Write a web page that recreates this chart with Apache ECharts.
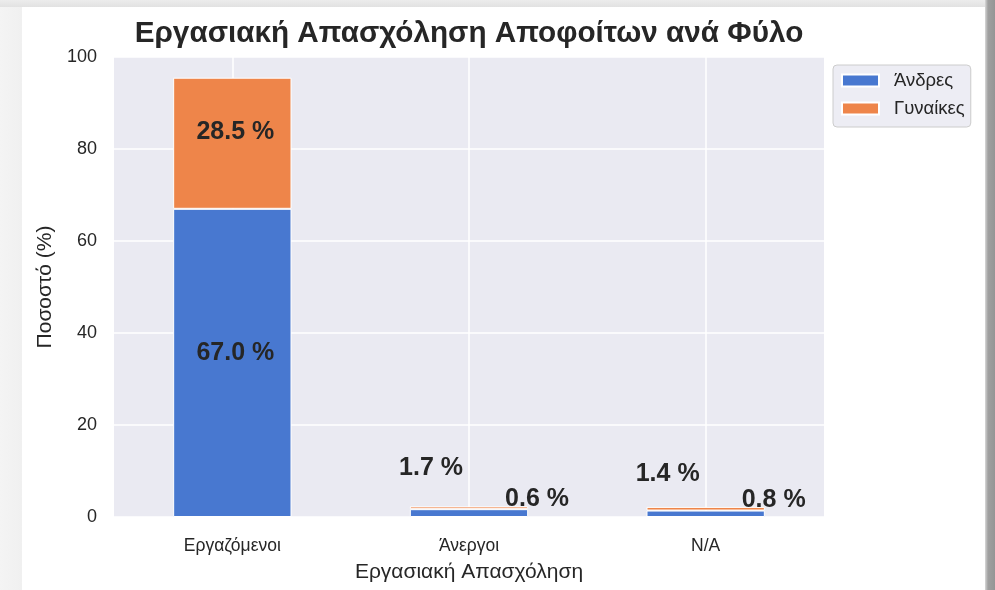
<!DOCTYPE html>
<html>
<head>
<meta charset="utf-8">
<script src="https://cdn.jsdelivr.net/npm/echarts@6/dist/echarts.min.js"></script>
<style>
  html, body { margin: 0; padding: 0; width: 995px; height: 590px; overflow: hidden; background: #f1f1f1; }
  #topband { position: absolute; left: 0; top: 0; width: 995px; height: 7px; background: linear-gradient(to bottom, #ececec, #e2e2e2); }
  #leftband { position: absolute; left: 0; top: 7px; width: 22px; height: 583px; background: linear-gradient(to right, #f4f4f4, #f0f0f0); }
  #card { position: absolute; left: 22px; top: 7px; width: 963px; height: 583px; background: #ffffff; }
  #rightband { position: absolute; left: 985px; top: 0; width: 10px; height: 590px; background: linear-gradient(to right, #d8d8d8, #a0a0a0 30%, #959595); }
  #chart { position: absolute; left: 0; top: 0; width: 995px; height: 590px; }
</style>
</head>
<body>
<div id="topband"></div>
<div id="leftband"></div>
<div id="card"></div>
<div id="rightband"></div>
<div id="chart"></div>
<script>
// ---- data ----
const categories = ['Εργαζόμενοι', 'Άνεργοι', 'N/A'];
const seriesNames = ['Άνδρες', 'Γυναίκες'];
const menValues = [67.0, 1.7, 1.4];
const womenValues = [28.5, 0.6, 0.8];
const yTicks = [0, 20, 40, 60, 80, 100];
const titleText = 'Εργασιακή Απασχόληση Αποφοίτων ανά Φύλο';
const xAxisTitle = 'Εργασιακή Απασχόληση';
const yAxisTitle = 'Ποσοστό (%)';

// ---- styles ----
const FONT = '"Liberation Sans", Arial, sans-serif';
const colors = ['#4878d0', '#ee854a'];
// label offsets (pixels) per category, relative to segment centre
const menLabelOffsets = [[3, -10], [-38, -45], [-38, -40]];
const womenLabelOffsets = [[3, -11], [68, -9], [68, -9]];

function buildData(values, offsets) {
  return values.map((v, i) => ({
    value: v,
    label: { offset: offsets[i] }
  }));
}

const labelStyle = {
  show: true,
  position: 'inside',
  formatter: p => p.value.toFixed(1) + ' %',
  color: '#262626',
  fontFamily: FONT,
  fontWeight: 'bold',
  fontSize: 25
};

const chart = echarts.init(document.getElementById('chart'), null, { renderer: 'canvas' });
chart.setOption({
  animation: false,
  backgroundColor: 'transparent',
  textStyle: { fontFamily: FONT },
  graphic: [{
    type: 'text',
    x: 469, y: 34,
    style: {
      text: titleText,
      x: 0, y: 0,
      font: 'bold 29.7px ' + FONT,
      fill: '#262626',
      textAlign: 'center',
      textVerticalAlign: 'middle'
    }
  }],
  legend: {
    orient: 'vertical',
    left: 833,
    top: 65,
    data: seriesNames,
    icon: 'rect',
    itemWidth: 37,
    itemHeight: 12,
    itemGap: 9,
    padding: [6, 6, 9, 8],
    backgroundColor: 'rgba(234,234,242,0.85)',
    borderColor: '#cccccc',
    borderWidth: 1,
    borderRadius: 4,
    textStyle: { fontSize: 18.5, color: '#262626', fontFamily: FONT, padding: [0, 0, 0, 10] }
  },
  grid: {
    left: 114, right: 171, top: 57, bottom: 73,
    show: true, backgroundColor: '#eaeaf2', borderWidth: 0
  },
  xAxis: {
    type: 'category',
    data: categories,
    axisLine: { show: false },
    axisTick: { show: false },
    axisLabel: { fontSize: 17.5, color: '#262626', margin: 20, fontFamily: FONT },
    splitLine: { show: true, alignWithLabel: true, lineStyle: { color: '#ffffff', width: 1.5 } },
    name: xAxisTitle,
    nameLocation: 'middle',
    nameGap: 45,
    nameTextStyle: { fontSize: 21, color: '#262626', fontFamily: FONT }
  },
  yAxis: {
    type: 'value',
    min: yTicks[0],
    max: yTicks[yTicks.length - 1],
    interval: yTicks[1] - yTicks[0],
    axisLine: { show: false },
    axisTick: { show: false },
    axisLabel: { fontSize: 18, color: '#262626', margin: 17, fontFamily: FONT },
    splitLine: { show: true, lineStyle: { color: '#ffffff', width: 1.5 } },
    name: yAxisTitle,
    nameLocation: 'middle',
    nameGap: 56,
    nameTextStyle: { fontSize: 21, color: '#262626', fontFamily: FONT }
  },
  series: [
    {
      name: seriesNames[0],
      type: 'bar',
      stack: 'total',
      barWidth: '50%',
      data: buildData(menValues, menLabelOffsets),
      itemStyle: { color: colors[0], borderColor: '#ffffff', borderWidth: 1 },
      label: labelStyle
    },
    {
      name: seriesNames[1],
      type: 'bar',
      stack: 'total',
      barWidth: '50%',
      data: buildData(womenValues, womenLabelOffsets),
      itemStyle: { color: colors[1], borderColor: '#ffffff', borderWidth: 1 },
      label: labelStyle
    }
  ]
});
</script>
</body>
</html>
